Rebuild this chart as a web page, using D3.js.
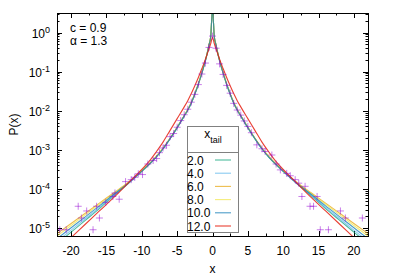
<!DOCTYPE html>
<html>
<head>
<meta charset="utf-8">
<script src="https://cdn.jsdelivr.net/npm/d3@7"></script>
<style>
  body { margin: 0; background: #fff; }
  svg { display: block; font-family: "Liberation Sans", Arial, sans-serif; }
</style>
</head>
<body>
<div id="chart"></div>
<script>
// x nodes of the model curves (mirrored to negative x, curves are symmetric)
var xNodes = [0, 0.25, 0.5, 0.75, 1, 1.5, 2, 2.5, 3, 3.5, 4, 5, 6, 7, 8, 9, 10, 12, 14, 16, 18, 20, 22];

// log10 P(x) for each x_tail
var tailNames = ["2.0", "4.0", "6.0", "8.0", "10.0", "12.0"];
var log10P_2 = [0.6, -0.1, -0.32, -0.53, -0.72, -1.03, -1.32, -1.57, -1.8, -1.98, -2.13, -2.43, -2.71, -2.97, -3.19, -3.38, -3.55, -3.87, -4.18, -4.5, -4.8, -5.1, -5.4];
var log10P_4 = [0.6, -0.1, -0.32, -0.53, -0.72, -1.03, -1.32, -1.57, -1.8, -1.98, -2.13, -2.43, -2.71, -2.97, -3.19, -3.38, -3.55, -3.87, -4.16, -4.47, -4.76, -5.05, -5.34];
var log10P_6 = [0.6, -0.09, -0.31, -0.52, -0.71, -1.02, -1.31, -1.56, -1.79, -1.97, -2.12, -2.42, -2.7, -2.95, -3.17, -3.36, -3.53, -3.84, -4.1, -4.36, -4.62, -4.88, -5.14];
var log10P_8 = [0.6, -0.09, -0.31, -0.52, -0.71, -1.02, -1.31, -1.56, -1.79, -1.97, -2.12, -2.42, -2.7, -2.96, -3.18, -3.37, -3.54, -3.85, -4.12, -4.39, -4.66, -4.93, -5.2];
var log10P_10 = [0.6, -0.1, -0.32, -0.53, -0.72, -1.03, -1.32, -1.57, -1.8, -1.98, -2.13, -2.43, -2.71, -2.97, -3.19, -3.37, -3.54, -3.86, -4.14, -4.43, -4.71, -4.99, -5.27];
var log10P_12 = [-0.12, -0.28, -0.42, -0.55, -0.68, -0.92, -1.15, -1.36, -1.56, -1.74, -1.9, -2.2, -2.5, -2.8, -3.06, -3.3, -3.5, -3.86, -4.22, -4.56, -4.9, -5.24, -5.58];
var curveValues = [log10P_2, log10P_4, log10P_6, log10P_8, log10P_10, log10P_12];

// histogram points (+ markers)
var markerX = [
  -21.6, -20.7, -19.0, -18.55, -17.8, -16.9, -16.4, -16.0, -15.1, -14.1, -13.8, -13.2, -12.3, -11.5,
  -11, -10.5, -9.9, -9.15, -8.4, -7.9, -7.5, -7, -6.5, -6, -5.5, -5, -4.5, -4, -3.5, -3, -2.5, -2, -1.5, -1, -0.5,
  0, 0.5, 1, 1.5, 2, 2.5, 3, 3.5, 4, 4.5, 5, 5.5, 6.27, 7, 7.45, 8.4, 9, 9.6, 10.5, 11, 11.7,
  12.2, 12.65, 13.1, 13.8, 14.3, 14.8, 15.25, 16.4, 18.1, 18.8, 21.2
];
var markerLog10P = [
  -5.04, -5.04, -4.44, -4.74, -4.56, -5.04, -4.44, -4.74, -4.34, -4.19, -4.1, -4.26, -3.81, -3.76,
  -3.7, -3.61, -3.63, -3.36, -3.27, -3.22, -3.07, -2.95, -2.88, -2.66, -2.58, -2.42, -2.25, -2.1, -1.96, -1.78, -1.58, -1.33, -1.06, -0.78, -0.38,
  -0.09, -0.4, -0.8, -1.07, -1.35, -1.55, -1.81, -1.98, -2.11, -2.26, -2.4, -2.56, -2.87, -2.97, -3.04, -3.13, -3.36, -3.51, -3.6, -3.66, -3.76,
  -3.85, -4.19, -3.93, -4.44, -4.44, -4.19, -5.04, -5.04, -4.56, -4.74, -4.74
];

var xTicks = [-20, -15, -10, -5, 0, 5, 10, 15, 20];
var yDecades = [0, -1, -2, -3, -4, -5];

var colors = ["#009e73", "#56b4e9", "#e69f00", "#f0e442", "#0072b2", "#e51e10"];

var width = 399, height = 279;
var plot = { left: 57, top: 13, right: 368, bottom: 236 };

var svg = d3.select("#chart").append("svg")
  .attr("width", width).attr("height", height);

var x = d3.scaleLinear().domain([-22, 22]).range([plot.left, plot.right]);
var y = d3.scaleLog().domain([Math.pow(10, 0.5), Math.pow(10, -5.2)]).range([plot.top, plot.bottom]);

svg.append("clipPath").attr("id", "clip")
  .append("rect")
  .attr("x", plot.left).attr("y", plot.top)
  .attr("width", plot.right - plot.left).attr("height", plot.bottom - plot.top);

// ticks, all four sides, pointing inwards
var ticks = svg.append("g").attr("stroke", "#000").attr("stroke-width", 1);
xTicks.forEach(function (t) {
  var px = Math.round(x(t)) + 0.5;
  ticks.append("line").attr("x1", px).attr("x2", px).attr("y1", plot.bottom).attr("y2", plot.bottom - 5);
  ticks.append("line").attr("x1", px).attr("x2", px).attr("y1", plot.top).attr("y2", plot.top + 5);
});
d3.range(-17.5, 20, 5).forEach(function (t) {
  var px = Math.round(x(t)) + 0.5;
  ticks.append("line").attr("x1", px).attr("x2", px).attr("y1", plot.bottom).attr("y2", plot.bottom - 2.5);
  ticks.append("line").attr("x1", px).attr("x2", px).attr("y1", plot.top).attr("y2", plot.top + 2.5);
});
yDecades.forEach(function (d) {
  var py = Math.round(y(Math.pow(10, d))) + 0.5;
  ticks.append("line").attr("x1", plot.left).attr("x2", plot.left + 5).attr("y1", py).attr("y2", py);
  ticks.append("line").attr("x1", plot.right).attr("x2", plot.right - 5).attr("y1", py).attr("y2", py);
});
[-6, -5, -4, -3, -2, -1, 0].forEach(function (d) {
  d3.range(2, 10).forEach(function (k) {
    var v = k * Math.pow(10, d);
    if (v > y.domain()[0] || v < y.domain()[1]) return;
    var py = Math.round(y(v)) + 0.5;
    ticks.append("line").attr("x1", plot.left).attr("x2", plot.left + 2.5).attr("y1", py).attr("y2", py);
    ticks.append("line").attr("x1", plot.right).attr("x2", plot.right - 2.5).attr("y1", py).attr("y2", py);
  });
});

// tick labels
svg.append("g").attr("font-size", 12).attr("text-anchor", "middle")
  .selectAll("text").data(xTicks).join("text")
  .attr("x", function (d) { return x(d); })
  .attr("y", 255)
  .text(function (d) { return d; });

var yl = svg.append("g").attr("font-size", 12).attr("text-anchor", "end")
  .selectAll("text").data(yDecades).join("text")
  .attr("x", 50)
  .attr("y", function (d) { return y(Math.pow(10, d)) + 5; });
yl.append("tspan").text("10");
yl.append("tspan").attr("font-size", 9).attr("dy", -5).text(function (d) { return d; });

// data
var chart = svg.append("g").attr("clip-path", "url(#clip)");

var line = d3.line()
  .x(function (d) { return x(d[0]); })
  .y(function (d) { return y(Math.pow(10, d[1])); })
  .curve(d3.curveMonotoneX);

curveValues.forEach(function (vals, s) {
  var pts = [];
  for (var i = xNodes.length - 1; i > 0; i--) pts.push([-xNodes[i], vals[i]]);
  for (var j = 0; j < xNodes.length; j++) pts.push([xNodes[j], vals[j]]);
  chart.append("path")
    .datum(pts)
    .attr("fill", "none")
    .attr("stroke", colors[s])
    .attr("stroke-opacity", s === 5 ? 0.85 : 0.7)
    .attr("stroke-width", 1.1)
    .attr("d", line);
});

chart.append("g")
  .attr("stroke", "#9400d3").attr("stroke-opacity", 0.5).attr("stroke-width", 1).attr("fill", "none")
  .selectAll("path").data(markerX).join("path")
  .attr("transform", function (d, i) {
    return "translate(" + x(d) + "," + y(Math.pow(10, markerLog10P[i])) + ")";
  })
  .attr("d", "M-3.5,0H3.5M0,-3.5V3.5");

// frame
svg.append("rect")
  .attr("x", plot.left + 0.5).attr("y", plot.top + 0.5)
  .attr("width", plot.right - plot.left).attr("height", plot.bottom - plot.top)
  .attr("fill", "none").attr("stroke", "#000").attr("stroke-width", 1);

// parameter labels
svg.append("text").attr("x", 70).attr("y", 32).attr("font-size", 12).text("c = 0.9");
svg.append("text").attr("x", 70).attr("y", 45).attr("font-size", 12).text("\u03b1 = 1.3");

// legend
var lg = svg.append("g");
lg.append("rect")
  .attr("x", 187.5).attr("y", 126.5).attr("width", 51).attr("height", 106)
  .attr("fill", "#fff").attr("stroke", "#808080");
lg.append("line")
  .attr("x1", 187.5).attr("x2", 238.5).attr("y1", 152.5).attr("y2", 152.5)
  .attr("stroke", "#808080");
var title = lg.append("text").attr("x", 213).attr("y", 138).attr("font-size", 12).attr("text-anchor", "middle");
title.append("tspan").text("x");
title.append("tspan").attr("font-size", 9).attr("dy", 5).text("tail");

tailNames.forEach(function (name, i) {
  var ly = 160 + 13.2 * i;
  lg.append("text").attr("x", 187).attr("y", ly + 4.5).attr("font-size", 12).text(name);
  lg.append("line")
    .attr("x1", 215).attr("x2", 231).attr("y1", ly).attr("y2", ly)
    .attr("stroke", colors[i]).attr("stroke-opacity", i === 5 ? 0.85 : 0.7).attr("stroke-width", 1.1);
});

// axis titles
svg.append("text").attr("x", x(0)).attr("y", 273).attr("font-size", 12).attr("text-anchor", "middle").text("x");
svg.append("text")
  .attr("transform", "translate(18," + (plot.top + plot.bottom) / 2 + ") rotate(-90)")
  .attr("font-size", 12).attr("text-anchor", "middle").text("P(x)");
</script>
</body>
</html>
